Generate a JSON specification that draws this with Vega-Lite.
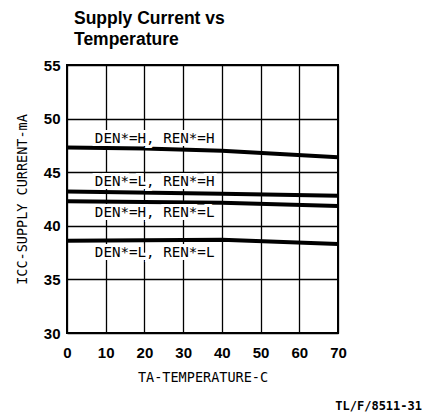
{
  "$schema": "https://vega.github.io/schema/vega-lite/v6.json",
  "autosize": "none",
  "width": 271,
  "height": 268,
  "padding": {"left": 67, "top": 65, "right": 87, "bottom": 85},
  "background": "white",
  "title": {
    "text": ["Supply Current vs", "Temperature"],
    "anchor": "start",
    "frame": "group",
    "font": "Liberation Sans",
    "fontSize": 17.5,
    "fontWeight": "bold",
    "lineHeight": 21,
    "dx": 7,
    "offset": 10,
    "color": "black"
  },
  "config": {
    "view": {"stroke": "black", "strokeWidth": 2},
    "axis": {
      "grid": true,
      "gridColor": "black",
      "gridOpacity": 1,
      "gridWidth": 1.3,
      "domain": false,
      "ticks": false,
      "labelOverlap": false,
      "labelFlush": false,
      "labelFont": "Liberation Sans",
      "labelFontWeight": "bold",
      "labelFontSize": 15,
      "labelColor": "black",
      "titleFont": "DejaVu Sans Mono",
      "titleFontWeight": "normal",
      "titleFontSize": 13.5,
      "titleColor": "black"
    }
  },
  "datasets": {
    "curves": [
      {"series": "DEN*=H, REN*=H", "temp": 0, "icc": 47.3},
      {"series": "DEN*=H, REN*=H", "temp": 20, "icc": 47.2},
      {"series": "DEN*=H, REN*=H", "temp": 40, "icc": 47.0},
      {"series": "DEN*=H, REN*=H", "temp": 70, "icc": 46.4},
      {"series": "DEN*=L, REN*=H", "temp": 0, "icc": 43.2},
      {"series": "DEN*=L, REN*=H", "temp": 40, "icc": 43.0},
      {"series": "DEN*=L, REN*=H", "temp": 70, "icc": 42.8},
      {"series": "DEN*=H, REN*=L", "temp": 0, "icc": 42.3},
      {"series": "DEN*=H, REN*=L", "temp": 40, "icc": 42.15},
      {"series": "DEN*=H, REN*=L", "temp": 70, "icc": 41.85},
      {"series": "DEN*=L, REN*=L", "temp": 0, "icc": 38.6},
      {"series": "DEN*=L, REN*=L", "temp": 40, "icc": 38.7},
      {"series": "DEN*=L, REN*=L", "temp": 70, "icc": 38.3}
    ],
    "labels": [
      {"series": "DEN*=H, REN*=H", "icc": 47.3, "side": "above"},
      {"series": "DEN*=L, REN*=H", "icc": 43.2, "side": "above"},
      {"series": "DEN*=H, REN*=L", "icc": 42.3, "side": "below"},
      {"series": "DEN*=L, REN*=L", "icc": 38.6, "side": "below"}
    ],
    "note": [{"text": "TL/F/8511-31"}]
  },
  "layer": [
    {
      "data": {"name": "curves"},
      "mark": {"type": "line", "color": "black", "strokeWidth": 4, "clip": true},
      "encoding": {
        "x": {
          "field": "temp", "type": "quantitative",
          "scale": {"domain": [0, 70], "nice": false},
          "axis": {"values": [0,10,20,30,40,50,60,70], "labelPadding": 12, "title": "TA-TEMPERATURE-C", "titlePadding": 10}
        },
        "y": {
          "field": "icc", "type": "quantitative",
          "scale": {"domain": [30, 55], "nice": false, "zero": false},
          "axis": {"values": [30,35,40,45,50,55], "labelPadding": 7, "title": "ICC-SUPPLY CURRENT-mA", "titlePadding": 14}
        },
        "detail": {"field": "series"}
      }
    },
    {
      "data": {"name": "labels"},
      "transform": [{"filter": "datum.side === 'above'"}],
      "layer": [
        {"mark": {"type": "text", "font": "DejaVu Sans Mono", "fontSize": 14.2, "align": "left", "baseline": "middle", "dy": -9, "stroke": "white", "strokeWidth": 6, "fill": "white"}},
        {"mark": {"type": "text", "font": "DejaVu Sans Mono", "fontSize": 14.2, "align": "left", "baseline": "middle", "dy": -9, "fill": "black"}}
      ],
      "encoding": {
        "x": {"datum": 7.2, "type": "quantitative", "axis": {"values": [0,10,20,30,40,50,60,70], "labelPadding": 12, "title": "TA-TEMPERATURE-C", "titlePadding": 10}},
        "y": {"field": "icc", "type": "quantitative", "axis": {"values": [30,35,40,45,50,55], "labelPadding": 7, "title": "ICC-SUPPLY CURRENT-mA", "titlePadding": 14}},
        "text": {"field": "series"}
      }
    },
    {
      "data": {"name": "labels"},
      "transform": [{"filter": "datum.side === 'below'"}],
      "layer": [
        {"mark": {"type": "text", "font": "DejaVu Sans Mono", "fontSize": 14.2, "align": "left", "baseline": "middle", "dy": 12, "stroke": "white", "strokeWidth": 6, "fill": "white"}},
        {"mark": {"type": "text", "font": "DejaVu Sans Mono", "fontSize": 14.2, "align": "left", "baseline": "middle", "dy": 12, "fill": "black"}}
      ],
      "encoding": {
        "x": {"datum": 7.2, "type": "quantitative", "axis": {"values": [0,10,20,30,40,50,60,70], "labelPadding": 12, "title": "TA-TEMPERATURE-C", "titlePadding": 10}},
        "y": {"field": "icc", "type": "quantitative", "axis": {"values": [30,35,40,45,50,55], "labelPadding": 7, "title": "ICC-SUPPLY CURRENT-mA", "titlePadding": 14}},
        "text": {"field": "series"}
      }
    },
    {
      "data": {"name": "note"},
      "mark": {"type": "text", "font": "DejaVu Sans Mono", "fontWeight": "bold", "fontSize": 12, "align": "right", "baseline": "bottom", "dx": 84, "dy": 80, "clip": false, "color": "black"},
      "encoding": {
        "x": {"datum": 70, "type": "quantitative", "axis": {"values": [0,10,20,30,40,50,60,70], "labelPadding": 12, "title": "TA-TEMPERATURE-C", "titlePadding": 10}},
        "y": {"datum": 30, "type": "quantitative", "axis": {"values": [30,35,40,45,50,55], "labelPadding": 7, "title": "ICC-SUPPLY CURRENT-mA", "titlePadding": 14}},
        "text": {"field": "text"}
      }
    }
  ]
}
